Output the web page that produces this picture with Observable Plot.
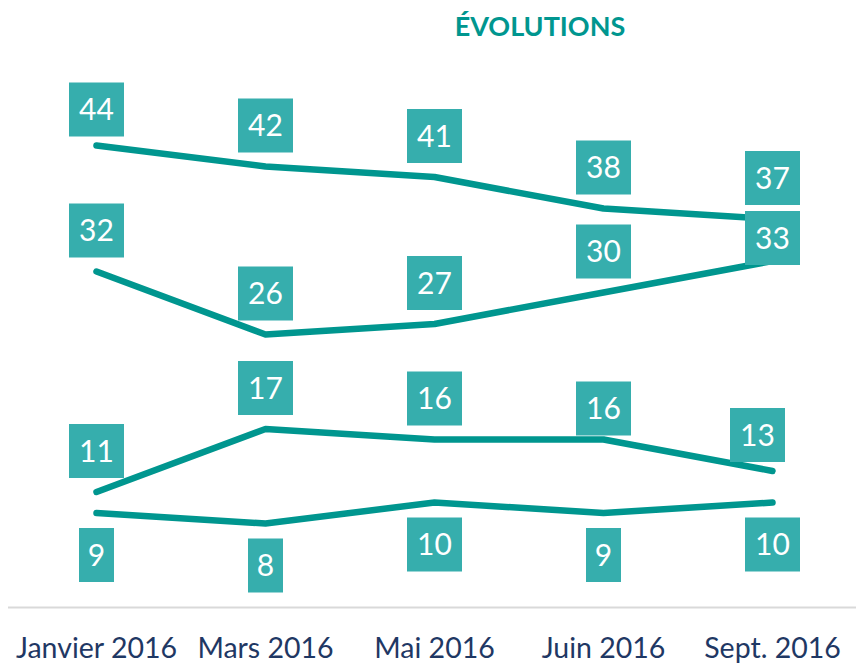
<!DOCTYPE html>
<html>
<head>
<meta charset="utf-8">
<script src="https://cdn.jsdelivr.net/npm/d3@7"></script>
<script src="https://cdn.jsdelivr.net/npm/@observablehq/plot@0.6"></script>
<style>
  html, body { margin: 0; padding: 0; background: #fff; }
  #wrap { position: relative; width: 856px; height: 664px; }
  #title { position: absolute; top: 9px; left: 440px; width: 200px; text-align: center;
           font-family: Lato, "Open Sans", sans-serif; font-weight: 700; font-size: 27px;
           color: #00968f; letter-spacing: 0px; }
</style>
</head>
<body>
<div id="wrap"><div id="title">ÉVOLUTIONS</div></div>
<script>
// ---- data ----
const months  = ["Janvier 2016", "Mars 2016", "Mai 2016", "Juin 2016", "Sept. 2016"];
const seriesNames = ["A", "B", "C", "D"];
const serieA = [44, 42, 41, 38, 37];
const serieB = [32, 26, 27, 30, 33];
const serieC = [11, 17, 16, 16, 13];
const serieD = [9, 8, 10, 9, 10];
const labelSide = ["above", "above", "above", "below"];

// ---- styles (label nudges, pixels) ----
const LINE = "#00968f";
const BOX = "#36aead";
const nudges = {
  "A|Janvier 2016": {dx: 0, dy: -36},
  "B|Sept. 2016": {dx: 0, dy: -23},
  "C|Juin 2016": {dx: 0, dy: -31},
  "C|Sept. 2016": {dx: -15, dy: -36}
};

const allSeries = [serieA, serieB, serieC, serieD];
const rows = [];
allSeries.forEach((vals, si) => vals.forEach((v, i) => {
  const key = seriesNames[si] + "|" + months[i];
  const base = labelSide[si] === "above" ? {dx: 0, dy: -41} : {dx: 0, dy: 42};
  const n = nudges[key] || base;
  rows.push({series: seriesNames[si], month: months[i], value: v, dx: n.dx, dy: n.dy});
}));

const box = w => ({draw(ctx) { ctx.rect(-w / 2, -27, w, 54); }});

// group labels by offset so each group uses constant dx/dy
const groups = d3.groups(rows, d => d.dx + "," + d.dy);
const labelMarks = [];
for (const [, g] of groups) {
  const dx = g[0].dx, dy = g[0].dy;
  const wide = g.filter(d => String(d.value).length > 1);
  const narrow = g.filter(d => String(d.value).length === 1);
  labelMarks.push(
    Plot.dot(wide, {x: "month", y: "value", symbol: box(55), fill: BOX, stroke: "none", dx, dy}),
    Plot.dot(narrow, {x: "month", y: "value", symbol: box(35), fill: BOX, stroke: "none", dx, dy}),
    Plot.text(g, {x: "month", y: "value", text: d => String(d.value), fill: "white",
                  fontSize: 30, dx, dy: dy + 1})
  );
}

const chart = Plot.plot({
  width: 856,
  height: 664,
  marginLeft: 96,
  marginRight: 84,
  marginTop: 145,
  marginBottom: 57,
  style: {fontFamily: "Lato, 'Open Sans', sans-serif", background: "transparent", overflow: "visible"},
  x: {type: "point", domain: months, padding: 0, label: null},
  y: {domain: [0, 44], axis: null},
  marks: [
    Plot.ruleY([0], {stroke: "#d9d9d9", strokeWidth: 2, insetLeft: -88, insetRight: -84}),
    Plot.axisX({tickSize: 0, tickPadding: 30, fontSize: 28.5, fill: "#1f3864", label: null}),
    Plot.line(rows, {x: "month", y: "value", z: "series", stroke: LINE, strokeWidth: 6.5,
                     strokeLinecap: "round", strokeLinejoin: "round"}),
    ...labelMarks
  ]
});
document.getElementById("wrap").appendChild(chart);
</script>
</body>
</html>
